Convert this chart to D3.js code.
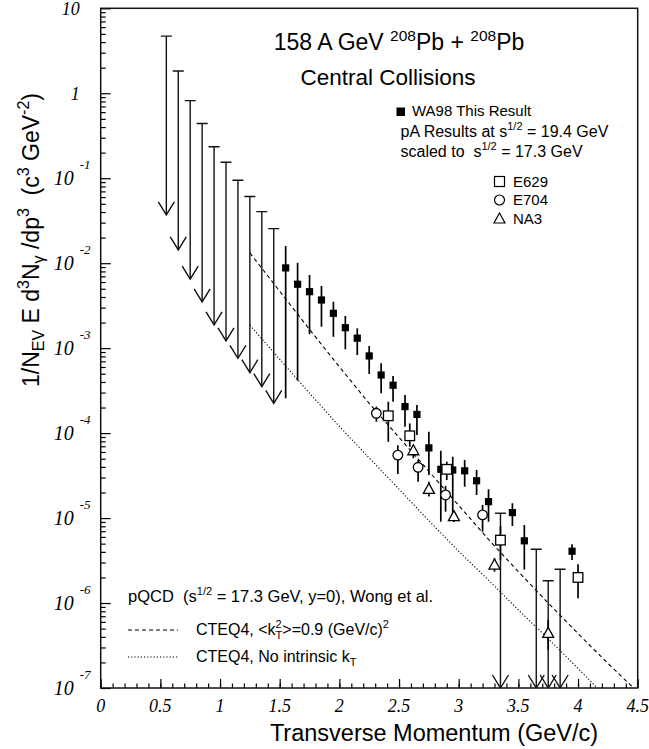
<!DOCTYPE html>
<meta charset="utf-8">
<script src="https://d3js.org/d3.v7.min.js"></script>
<style>
    body { margin: 0; background: #fff; }
    text { font-family: "Liberation Sans", Arial, sans-serif; fill: #000; }
    .num { font-family: "Liberation Serif", "Times New Roman", serif; font-style: italic; }
</style>

<div id="chart"></div>

<script>
    // upper limits (arrows), WA98
    var ulX   = [0.55, 0.65, 0.75, 0.85, 0.95, 1.05, 1.15, 1.25, 1.35, 1.45, 3.35, 3.65, 3.75, 3.85];
    var ulTop = [4.7, 1.83, 0.82, 0.44, 0.235, 0.154, 0.0946, 0.061, 0.0404, 0.0255, 1.14e-5, 4.3e-6, 1.83e-6, 2.5e-6];
    var ulTip = [0.037, 0.0143, 0.0065, 0.0035, 0.00188, 0.00122, 7.6e-4, 5.14e-4, 3.52e-4, 2.24e-4, 1e-7, 1e-7, 1e-7, 1e-7];

    // WA98 this result
    var waX  = [1.55, 1.65, 1.75, 1.85, 1.95, 2.05, 2.15, 2.25, 2.35, 2.45, 2.55, 2.65, 2.75, 2.85, 2.95, 3.05, 3.15, 3.25, 3.45, 3.55, 3.95];
    var waY  = [8.8e-3, 5.65e-3, 4.62e-3, 3.69e-3, 2.57e-3, 1.74e-3, 1.31e-3, 8.1e-4, 4.83e-4, 3.66e-4, 2.05e-4, 1.66e-4, 6.7e-5, 3.75e-5, 3.68e-5, 3.6e-5, 2.75e-5, 1.56e-5, 1.16e-5, 5.4e-6, 4.07e-6];
    var waHi = [1.59e-2, 1.01e-2, 7.26e-3, 5.4e-3, 3.52e-3, 2.39e-3, 1.71e-3, 1.06e-3, 6.64e-4, 4.7e-4, 2.81e-4, 2.14e-4, 1.04e-4, 6.2e-5, 5.27e-5, 4.83e-5, 3.68e-5, 2.18e-5, 1.49e-5, 8.3e-6, 4.91e-6];
    var waLo = [2.57e-4, 4.14e-4, 1.46e-3, 1.79e-3, 1.36e-3, 9.7e-4, 8.3e-4, 4.97e-4, 2.94e-4, 2.34e-4, 1.19e-4, 9.5e-5, 3.21e-5, 9.05e-6, 1.04e-5, 2.34e-5, 1.87e-5, 9.05e-6, 8.07e-6, 2.49e-6, 3.21e-6];

    // pA results scaled
    var e629X  = [2.41, 2.59, 2.9, 3.35, 4.0];
    var e629Y  = [1.6e-4, 9.3e-5, 3.75e-5, 5.5e-6, 2.0e-6];
    var e629Hi = [2.34e-4, 1.3e-4, 4.61e-5, 8.07e-6, 2.86e-6];
    var e629Lo = [7.9e-5, 6.9e-5, 2.8e-5, 3.2e-6, 1.14e-6];

    var e704X  = [2.31, 2.49, 2.66, 2.89, 3.2];
    var e704Y  = [1.71e-4, 5.5e-5, 3.96e-5, 1.87e-5, 1.09e-5];
    var e704Hi = [2.05e-4, 7.2e-5, 4.83e-5, 2.39e-5, 1.43e-5];
    var e704Lo = [1.36e-4, 3.3e-5, 2.68e-5, 1.19e-5, 6.9e-6];

    var na3X  = [2.62, 2.75, 2.96, 3.3, 3.75];
    var na3Y  = [6.2e-5, 2.18e-5, 1.04e-5, 2.8e-6, 4.4e-7];
    var na3Hi = [7.2e-5, 2.68e-5, 1.2e-5, 3.37e-6, 6.3e-7];
    var na3Lo = [5.06e-5, 1.79e-5, 9e-6, 2.34e-6, 2.8e-7];

    // pQCD curves
    var ktX = [1.25, 1.5, 1.75, 2.0, 2.25, 2.5, 2.75, 3.0, 3.25, 3.5, 3.75, 4.0, 4.25, 4.45];
    var ktY = [1.32e-2, 4.68e-3, 1.66e-3, 6.03e-4, 2.24e-4, 8.9e-5, 3.55e-5, 1.41e-5, 5.6e-6, 2.34e-6, 1.0e-6, 4.37e-7, 1.95e-7, 1.05e-7];
    var noKtX = [1.25, 1.5, 1.75, 2.0, 2.25, 2.5, 2.75, 3.0, 3.25, 3.5, 3.75, 4.0, 4.16];
    var noKtY = [1.86e-3, 7.4e-4, 2.95e-4, 1.2e-4, 5.1e-5, 2.19e-5, 9.3e-6, 4.07e-6, 1.86e-6, 8.3e-7, 3.8e-7, 1.7e-7, 1.0e-7];

    // axis ticks
    var xMajor = [0, 0.5, 1, 1.5, 2, 2.5, 3, 3.5, 4, 4.5];
    var xLabels = ["0", "0.5", "1", "1.5", "2", "2.5", "3", "3.5", "4", "4.5"];
    var yExp = [-7, -6, -5, -4, -3, -2, -1, 0, 1];

    var margin = {top: 8.3, right: 11.3, bottom: 61, left: 100.7},
        width = 649 - margin.left - margin.right,
        height = 749 - margin.top - margin.bottom;

    var root = d3.select("#chart")
        .append("svg")
        .attr("width", 649)
        .attr("height", 749);

    var svg = root.append("g")
        .attr("transform", "translate(" + margin.left + "," + margin.top + ")");

    var x = d3.scaleLinear().domain([0, 4.5]).range([0, width]);
    var y = d3.scaleLog().domain([1e-7, 10]).range([height, 0]);

    svg.append("clipPath").attr("id", "clip")
        .append("rect").attr("width", width).attr("height", height);

    // ticks (inside), no domain path
    var xMinor = d3.range(0, 45).map(function(i) { return i / 10; });
    svg.append("g").attr("class", "ax")
        .attr("transform", "translate(0," + height + ")")
        .call(d3.axisBottom(x).tickValues(xMinor).tickSize(-4.5).tickFormat(""));
    svg.append("g").attr("class", "ax")
        .attr("transform", "translate(0," + height + ")")
        .call(d3.axisBottom(x).tickValues(xMajor).tickSize(-9).tickFormat(""));

    var yMajor = yExp.map(function(e) { return Math.pow(10, e); });
    var yMinor = [];
    yExp.slice(0, -1).forEach(function(e) {
        for (var k = 2; k <= 9; k++) yMinor.push(k * Math.pow(10, e));
    });
    svg.append("g").attr("class", "ax")
        .call(d3.axisLeft(y).tickValues(yMinor).tickSize(-5).tickFormat(""));
    svg.append("g").attr("class", "ax")
        .call(d3.axisLeft(y).tickValues(yMajor).tickSize(-10).tickFormat(""));

    svg.selectAll(".ax .domain").remove();
    svg.selectAll(".ax line").attr("stroke", "#000").attr("stroke-width", 1.2);

    // frame
    svg.append("rect")
        .attr("width", width).attr("height", height)
        .attr("fill", "none").attr("stroke", "#111").attr("stroke-width", 1.5);

    // tick labels
    svg.selectAll(".xlab")
        .data(xMajor)
        .enter().append("text")
        .attr("class", "num")
        .attr("x", function(d) { return x(d); })
        .attr("y", height + 24)
        .attr("text-anchor", "middle")
        .style("font-size", "18px")
        .text(function(d, i) { return xLabels[i]; });

    yExp.forEach(function(e) {
        var yy = y(Math.pow(10, e));
        if (e === 0 || e === 1) {
            svg.append("text").attr("class", "num")
                .attr("x", -21).attr("y", yy + 7)
                .attr("text-anchor", "end")
                .style("font-size", "18px")
                .text(e === 0 ? "1" : "10");
        } else {
            svg.append("text").attr("class", "num")
                .attr("x", -27).attr("y", yy + 7)
                .attr("text-anchor", "end")
                .style("font-size", "20px")
                .text("10");
            svg.append("text").attr("class", "num")
                .attr("x", -21).attr("y", yy - 9)
                .style("font-size", "13px")
                .text(e);
        }
    });

    // pQCD curves
    var line = d3.line()
        .x(function(d) { return x(d[0]); })
        .y(function(d) { return y(d[1]); });

    var plot = svg.append("g").attr("clip-path", "url(#clip)");

    plot.append("path")
        .datum(d3.zip(ktX, ktY))
        .attr("d", line)
        .attr("fill", "none").attr("stroke", "#000")
        .attr("stroke-width", 1.1).attr("stroke-dasharray", "4,3");

    plot.append("path")
        .datum(d3.zip(noKtX, noKtY))
        .attr("d", line)
        .attr("fill", "none").attr("stroke", "#000")
        .attr("stroke-width", 1.1).attr("stroke-dasharray", "1.2,2");

    // upper limits
    var ul = plot.selectAll(".ul")
        .data(d3.zip(ulX, ulTop, ulTip))
        .enter().append("g").attr("class", "ul");
    ul.append("line")
        .attr("x1", function(d) { return x(d[0]); })
        .attr("x2", function(d) { return x(d[0]); })
        .attr("y1", function(d) { return y(d[1]); })
        .attr("y2", function(d) { return y(d[2]); });
    ul.append("line")
        .attr("x1", function(d) { return x(d[0]) - 5.5; })
        .attr("x2", function(d) { return x(d[0]) + 5.5; })
        .attr("y1", function(d) { return y(d[1]); })
        .attr("y2", function(d) { return y(d[1]); });
    ul.append("path")
        .attr("d", function(d) {
            var cx = x(d[0]), cy = y(d[2]);
            return "M" + (cx - 8) + "," + (cy - 13) + "L" + cx + "," + cy + "L" + (cx + 8) + "," + (cy - 13);
        })
        .attr("fill", "none");
    ul.selectAll("line, path").attr("stroke", "#111").attr("stroke-width", 1.4);

    // error bars
    function errBars(xs, ys, hi, lo) {
        plot.selectAll(null)
            .data(d3.zip(xs, hi, lo))
            .enter().append("line")
            .attr("x1", function(d) { return x(d[0]); })
            .attr("x2", function(d) { return x(d[0]); })
            .attr("y1", function(d) { return y(d[1]); })
            .attr("y2", function(d) { return y(d[2]); })
            .attr("stroke", "#000").attr("stroke-width", 1.7);
    }
    errBars(waX, waY, waHi, waLo);
    errBars(e629X, e629Y, e629Hi, e629Lo);
    errBars(e704X, e704Y, e704Hi, e704Lo);
    errBars(na3X, na3Y, na3Hi, na3Lo);

    // markers
    var tri = "M0,-6L5.5,4L-5.5,4Z";

    plot.selectAll(".wa")
        .data(d3.zip(waX, waY))
        .enter().append("rect")
        .attr("x", function(d) { return x(d[0]) - 3.6; })
        .attr("y", function(d) { return y(d[1]) - 3.6; })
        .attr("width", 7.2).attr("height", 7.2)
        .attr("fill", "#000");

    plot.selectAll(".e629")
        .data(d3.zip(e629X, e629Y))
        .enter().append("rect")
        .attr("x", function(d) { return x(d[0]) - 4.8; })
        .attr("y", function(d) { return y(d[1]) - 4.8; })
        .attr("width", 9.6).attr("height", 9.6)
        .attr("fill", "#fff").attr("stroke", "#000").attr("stroke-width", 1.3);

    plot.selectAll(".e704")
        .data(d3.zip(e704X, e704Y))
        .enter().append("circle")
        .attr("cx", function(d) { return x(d[0]); })
        .attr("cy", function(d) { return y(d[1]); })
        .attr("r", 4.8)
        .attr("fill", "#fff").attr("stroke", "#000").attr("stroke-width", 1.3);

    plot.selectAll(".na3")
        .data(d3.zip(na3X, na3Y))
        .enter().append("path")
        .attr("transform", function(d) { return "translate(" + x(d[0]) + "," + y(d[1]) + ")"; })
        .attr("d", tri)
        .attr("fill", "#fff").attr("stroke", "#000").attr("stroke-width", 1.3);

    // texts and legends (page coordinates)
    var T = root.append("g");
    var sp = "\u00a0";

    var t1 = T.append("text").attr("x", 399).attr("y", 50).attr("text-anchor", "middle").style("font-size", "23px");
    t1.append("tspan").text("158 A GeV" + sp);
    t1.append("tspan").attr("dy", -9).style("font-size", "15.5px").text("208");
    t1.append("tspan").attr("dy", 9).text("Pb + ");
    t1.append("tspan").attr("dy", -9).style("font-size", "15.5px").text("208");
    t1.append("tspan").attr("dy", 9).text("Pb");

    T.append("text").attr("x", 388).attr("y", 85).attr("text-anchor", "middle")
        .style("font-size", "22.5px").text("Central Collisions");

    T.append("rect").attr("x", 396.5).attr("y", 107.5).attr("width", 8.5).attr("height", 8.5).attr("fill", "#000");
    T.append("text").attr("x", 412).attr("y", 116).style("font-size", "15px").text("WA98 This Result");

    var t2 = T.append("text").attr("x", 400.5).attr("y", 137).style("font-size", "16px");
    t2.append("tspan").text("pA Results at s");
    t2.append("tspan").attr("dy", -7).style("font-size", "11px").text("1/2");
    t2.append("tspan").attr("dy", 7).text(sp + "= 19.4 GeV");

    var t3 = T.append("text").attr("x", 400.5).attr("y", 157).style("font-size", "16px");
    t3.append("tspan").text("scaled to" + sp + sp + "s");
    t3.append("tspan").attr("dy", -7).style("font-size", "11px").text("1/2");
    t3.append("tspan").attr("dy", 7).text(sp + "= 17.3 GeV");

    T.append("rect").attr("x", 494.5).attr("y", 176.5).attr("width", 10).attr("height", 10)
        .attr("fill", "#fff").attr("stroke", "#000").attr("stroke-width", 1.2);
    T.append("text").attr("x", 513).attr("y", 186.5).style("font-size", "15px").text("E629");
    T.append("circle").attr("cx", 499.5).attr("cy", 200).attr("r", 5)
        .attr("fill", "#fff").attr("stroke", "#000").attr("stroke-width", 1.2);
    T.append("text").attr("x", 513).attr("y", 205).style("font-size", "15px").text("E704");
    T.append("path").attr("transform", "translate(499.5,219)").attr("d", tri)
        .attr("fill", "#fff").attr("stroke", "#000").attr("stroke-width", 1.2);
    T.append("text").attr("x", 513).attr("y", 224).style("font-size", "15px").text("NA3");

    // pQCD legend
    var t4 = T.append("text").attr("x", 128).attr("y", 602).style("font-size", "16.5px");
    t4.append("tspan").text("pQCD" + sp + sp + "(s");
    t4.append("tspan").attr("dy", -7).style("font-size", "11px").text("1/2");
    t4.append("tspan").attr("dy", 7).text(sp + "= 17.3 GeV, y=0), Wong et al.");

    T.append("line").attr("x1", 128).attr("x2", 178).attr("y1", 630).attr("y2", 630)
        .attr("stroke", "#000").attr("stroke-width", 1.1).attr("stroke-dasharray", "4,3");
    var t5 = T.append("text").attr("x", 196).attr("y", 635).style("font-size", "16px");
    t5.append("tspan").text("CTEQ4, <k");
    t5.append("tspan").attr("dy", -7).style("font-size", "11px").text("2");
    t5.append("tspan").attr("dx", -6.1).attr("dy", 11).style("font-size", "11px").text("T");
    t5.append("tspan").attr("dy", -4).text(">=0.9 (GeV/c)");
    t5.append("tspan").attr("dy", -7).style("font-size", "11px").text("2");

    T.append("line").attr("x1", 128).attr("x2", 178).attr("y1", 657).attr("y2", 657)
        .attr("stroke", "#000").attr("stroke-width", 1.1).attr("stroke-dasharray", "1.2,2");
    var t6 = T.append("text").attr("x", 196).attr("y", 662).style("font-size", "16px");
    t6.append("tspan").text("CTEQ4, No intrinsic k");
    t6.append("tspan").attr("dy", 4).style("font-size", "11px").text("T");

    // axis titles
    T.append("text").attr("x", 434).attr("y", 741).attr("text-anchor", "middle")
        .style("font-size", "23.5px").text("Transverse Momentum (GeV/c)");

    var yl = T.append("text")
        .attr("transform", "translate(39,240) rotate(-90)")
        .attr("text-anchor", "middle")
        .style("font-size", "23px");
    yl.append("tspan").text("1/N");
    yl.append("tspan").attr("dy", 5).style("font-size", "16px").text("EV");
    yl.append("tspan").attr("dy", -5).text(sp + "E d");
    yl.append("tspan").attr("dy", -10).style("font-size", "16px").text("3");
    yl.append("tspan").attr("dy", 10).text("N");
    yl.append("tspan").attr("dy", 5).style("font-size", "16px").text("γ");
    yl.append("tspan").attr("dy", -5).text(sp + "/dp");
    yl.append("tspan").attr("dy", -10).style("font-size", "16px").text("3");
    yl.append("tspan").attr("dy", 10).text(sp + sp + "(c");
    yl.append("tspan").attr("dy", -10).style("font-size", "16px").text("3");
    yl.append("tspan").attr("dy", 10).text(sp + "GeV");
    yl.append("tspan").attr("dy", -10).style("font-size", "16px").text("-2");
    yl.append("tspan").attr("dy", 10).text(")");
</script>
